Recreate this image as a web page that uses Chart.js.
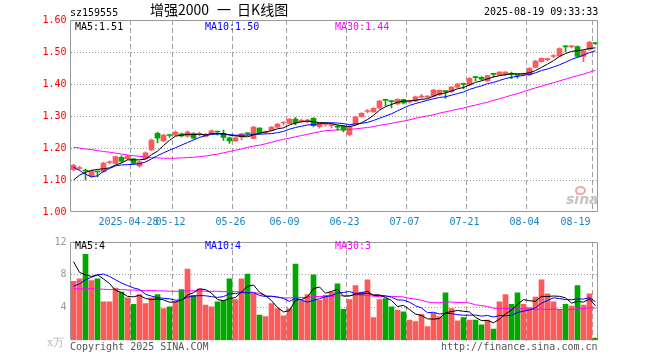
<!DOCTYPE html>
<html>
<head>
<meta charset="utf-8">
<script src="https://cdn.jsdelivr.net/npm/chart.js@4.4.1/dist/chart.umd.min.js"></script>
<style>
  body { margin: 0; width: 660px; height: 360px; position: relative; overflow: hidden; background: #fff; }
  canvas { position: absolute; left: 0; }
  #kline { top: 0; }
  #vol { top: 232px; }
  .t { position: absolute; white-space: nowrap; font: 10px/12px 'DejaVu Sans Mono', monospace; color: #000; }
</style>
</head>
<body>
<canvas id="kline" width="660" height="232"></canvas>
<canvas id="vol" width="660" height="128"></canvas>

<div class="t" style="left:70px;top:7px">sz159555</div>
<div class="t" style="left:150px;top:2px;font:14px/15px 'Noto Sans CJK SC',sans-serif">增强2000<span style="margin:0 6px 0 8px">一</span>日K线图</div>
<div class="t" style="left:484px;top:6px">2025-08-19 09:33:33</div>
<div class="t" style="left:75px;top:21px">MA5:1.51</div>
<div class="t" style="left:205px;top:21px;color:#0000ff">MA10:1.50</div>
<div class="t" style="left:335px;top:21px;color:#ff00ff">MA30:1.44</div>
<div class="t" style="left:75px;top:240px">MA5:4</div>
<div class="t" style="left:205px;top:240px;color:#0000ff">MA10:4</div>
<div class="t" style="left:335px;top:240px;color:#ff00ff">MA30:3</div>
<div class="t" style="left:47px;top:337px;color:#bbb;font:11px/12px 'DejaVu Serif',serif">x万</div>
<div class="t" style="left:70px;top:341px;color:#555">Copyright 2025 SINA.COM</div>
<div class="t" style="left:441px;top:341px;color:#555">http://finance.sina.com.cn</div>
<div style="position:absolute;left:575px;top:186px;width:7px;height:5px;border:2px solid #f2a6a6;border-radius:50%"></div>
<div class="t" style="left:566px;top:192px;color:#c4c4c4;font:italic bold 14px/14px 'DejaVu Sans',sans-serif">sina</div>

<script>
// trading days shown on the chart
var dates = [
  '04-14','04-15','04-16','04-17','04-18','04-21','04-22','04-23','04-24','04-25','04-28','04-29','04-30',
  '05-06','05-07','05-08','05-09','05-12','05-13','05-14','05-15','05-16','05-19','05-20','05-21','05-22','05-23',
  '05-26','05-27','05-28','05-29','05-30','06-03','06-04','06-05','06-06','06-09','06-10','06-11','06-12','06-13',
  '06-16','06-17','06-18','06-19','06-20','06-23','06-24','06-25','06-26','06-27','06-30','07-01','07-02','07-03',
  '07-04','07-07','07-08','07-09','07-10','07-11','07-14','07-15','07-16','07-17','07-18','07-21','07-22','07-23',
  '07-24','07-25','07-28','07-29','07-30','07-31','08-01','08-04','08-05','08-06','08-07','08-08','08-11','08-12',
  '08-13','08-14','08-15','08-18','08-19'
];

var opens = [1.132,1.136,1.130,1.113,1.127,1.126,1.154,1.152,1.171,1.167,1.166,1.144,1.167,1.194,1.246,1.222,1.241,1.240,1.244,1.237,
  1.245,1.243,1.236,1.245,1.252,1.246,1.232,1.222,1.235,1.246,1.230,1.262,1.248,1.255,1.265,1.278,1.277,1.290,1.283,1.284,
  1.293,1.267,1.274,1.270,1.268,1.268,1.242,1.275,1.298,1.314,1.313,1.325,1.351,1.347,1.338,1.351,1.344,1.347,1.359,1.359,
  1.362,1.366,1.378,1.376,1.390,1.401,1.397,1.422,1.421,1.410,1.432,1.428,1.429,1.432,1.429,1.429,1.428,1.452,1.470,1.476,
  1.486,1.488,1.518,1.516,1.517,1.486,1.508,1.528];
var highs = [1.150,1.143,1.134,1.131,1.129,1.155,1.160,1.175,1.176,1.178,1.168,1.159,1.188,1.228,1.250,1.243,1.242,1.253,1.247,1.254,
  1.248,1.250,1.246,1.257,1.253,1.256,1.234,1.234,1.246,1.248,1.268,1.264,1.254,1.267,1.277,1.281,1.292,1.296,1.290,1.290,
  1.295,1.279,1.278,1.276,1.272,1.271,1.270,1.300,1.311,1.320,1.326,1.349,1.352,1.348,1.354,1.353,1.350,1.362,1.368,1.364,
  1.383,1.382,1.379,1.392,1.402,1.403,1.420,1.423,1.423,1.428,1.433,1.439,1.439,1.437,1.430,1.434,1.451,1.474,1.482,1.481,
  1.492,1.513,1.519,1.521,1.519,1.506,1.533,1.529];
var lows = [1.128,1.132,1.100,1.108,1.110,1.124,1.150,1.150,1.155,1.163,1.149,1.140,1.165,1.192,1.216,1.220,1.233,1.238,1.235,1.234,
  1.228,1.238,1.235,1.243,1.240,1.224,1.214,1.220,1.225,1.240,1.228,1.244,1.245,1.253,1.263,1.272,1.275,1.272,1.280,1.278,
  1.266,1.262,1.268,1.262,1.255,1.250,1.238,1.272,1.296,1.310,1.311,1.322,1.331,1.325,1.336,1.338,1.340,1.345,1.356,1.356,
  1.360,1.364,1.355,1.374,1.388,1.385,1.395,1.410,1.413,1.408,1.422,1.426,1.427,1.417,1.418,1.425,1.426,1.450,1.468,1.472,
  1.482,1.486,1.500,1.513,1.484,1.470,1.506,1.524];
var closes = [1.146,1.138,1.128,1.129,1.125,1.153,1.156,1.173,1.158,1.174,1.152,1.157,1.185,1.225,1.231,1.240,1.239,1.250,1.238,1.250,
  1.231,1.245,1.243,1.254,1.250,1.233,1.222,1.232,1.244,1.244,1.265,1.247,1.250,1.265,1.275,1.280,1.290,1.278,1.286,1.286,
  1.270,1.277,1.276,1.272,1.265,1.256,1.267,1.297,1.308,1.316,1.324,1.347,1.349,1.345,1.352,1.341,1.346,1.360,1.361,1.361,
  1.381,1.380,1.376,1.390,1.400,1.399,1.418,1.420,1.415,1.426,1.430,1.437,1.437,1.430,1.427,1.431,1.449,1.472,1.480,1.478,
  1.488,1.511,1.516,1.518,1.486,1.504,1.530,1.526];

var ma5 = [1.100,1.115,1.124,1.130,1.133,1.135,1.138,1.147,1.153,1.163,1.163,1.163,1.165,1.179,1.190,1.208,1.224,1.237,1.240,1.243,
  1.242,1.243,1.241,1.245,1.245,1.245,1.240,1.238,1.236,1.235,1.241,1.246,1.250,1.254,1.260,1.263,1.272,1.278,1.282,1.284,
  1.282,1.279,1.279,1.276,1.272,1.269,1.267,1.271,1.279,1.289,1.302,1.318,1.329,1.336,1.343,1.347,1.347,1.349,1.352,1.354,
  1.362,1.369,1.372,1.378,1.385,1.389,1.397,1.405,1.410,1.416,1.422,1.426,1.429,1.432,1.432,1.432,1.435,1.442,1.452,1.462,
  1.473,1.486,1.495,1.502,1.504,1.507,1.511,1.513];
var ma10 = [1.140,1.130,1.118,1.110,1.113,1.127,1.136,1.144,1.147,1.148,1.149,1.151,1.156,1.166,1.176,1.185,1.193,1.201,1.209,1.217,
  1.225,1.233,1.239,1.242,1.244,1.243,1.242,1.240,1.240,1.240,1.243,1.243,1.244,1.245,1.248,1.252,1.259,1.264,1.268,1.272,
  1.273,1.276,1.278,1.279,1.278,1.276,1.273,1.275,1.277,1.280,1.286,1.293,1.300,1.307,1.316,1.325,1.333,1.339,1.344,1.349,
  1.354,1.358,1.360,1.365,1.370,1.375,1.383,1.389,1.394,1.401,1.405,1.411,1.417,1.421,1.424,1.427,1.430,1.435,1.442,1.447,
  1.453,1.460,1.468,1.477,1.483,1.490,1.498,1.504];
var ma30 = [1.202,1.200,1.197,1.195,1.192,1.189,1.187,1.184,1.181,1.178,1.176,1.174,1.172,1.170,1.169,1.168,1.168,1.168,1.169,1.170,
  1.171,1.173,1.175,1.178,1.181,1.185,1.189,1.193,1.197,1.202,1.206,1.209,1.213,1.218,1.223,1.227,1.231,1.235,1.239,1.243,
  1.247,1.251,1.254,1.255,1.257,1.257,1.258,1.260,1.262,1.264,1.267,1.271,1.274,1.277,1.281,1.284,1.288,1.293,1.297,1.300,
  1.304,1.309,1.313,1.317,1.321,1.325,1.330,1.334,1.339,1.343,1.349,1.354,1.359,1.365,1.370,1.376,1.382,1.388,1.393,1.399,
  1.404,1.410,1.415,1.421,1.426,1.431,1.437,1.443];

// volume in 万
var volumes = [7.2,7.5,10.5,7.3,7.5,4.7,4.7,6.4,5.9,5.2,4.4,5.6,4.5,5.2,5.6,3.9,4.1,4.7,6.2,8.7,
  5.5,6.3,4.3,4.1,4.7,4.9,7.5,5.0,7.5,8.1,5.7,3.1,2.9,4.5,3.9,3.0,3.9,9.3,4.8,5.6,
  8.0,4.9,5.5,5.9,6.9,3.8,5.0,6.7,5.9,7.4,2.8,5.0,5.1,4.1,3.7,3.5,2.5,2.3,3.2,1.7,
  3.3,2.9,5.8,3.9,2.4,2.8,2.5,2.5,1.9,2.5,1.4,4.7,5.6,4.4,5.8,4.4,4.0,5.3,7.4,5.7,
  4.7,3.8,4.4,4.2,6.7,4.3,5.7,0.3];
var vma5 = [9.6,8.3,8.0,7.8,8.0,7.5,6.94,6.12,5.84,5.38,5.32,5.5,5.12,4.98,5.06,4.96,4.66,4.7,4.9,5.52,
  5.84,6.28,6.2,5.78,4.98,4.86,5.1,5.24,5.92,6.6,6.76,5.88,5.46,4.86,4.02,3.48,3.64,4.92,4.98,5.32,
  6.32,6.52,5.76,5.98,6.24,5.4,5.42,5.66,5.66,5.76,5.56,5.56,5.24,4.88,4.14,4.28,3.78,3.22,3.04,2.64,
  2.6,2.68,3.38,3.52,3.66,3.56,3.48,2.82,2.42,2.44,2.16,2.6,3.22,3.72,4.38,4.98,4.84,4.78,5.38,5.36,
  5.42,5.38,5.2,4.56,4.76,4.68,5.06,4.24];
var vma10 = [6.6,6.9,7.4,7.7,8.0,8.1,7.8,7.4,7.0,6.69,6.41,6.22,5.62,5.41,5.22,5.14,5.08,4.91,4.94,5.29,
  5.4,5.47,5.45,5.34,5.25,5.35,5.69,5.72,5.85,5.79,5.81,5.49,5.35,5.39,5.31,5.12,4.76,5.19,4.92,4.67,
  4.9,5.08,5.34,5.48,5.78,5.86,5.97,5.71,5.82,6.0,5.48,5.49,5.45,5.27,4.95,4.92,4.67,4.23,3.96,3.39,
  3.44,3.23,3.3,3.28,3.15,3.08,3.08,3.1,2.97,3.05,2.86,3.04,3.02,3.07,3.41,3.57,3.72,4.0,4.55,4.87,
  5.2,5.11,4.99,4.97,5.06,5.05,5.22,4.72];
var vma30 = [6.3,6.3,6.3,6.3,6.25,6.25,6.2,6.2,6.2,6.15,6.15,6.1,6.1,6.1,6.05,6.05,6.0,6.0,6.0,6.05,
  6.05,6.05,6.0,6.0,6.0,5.95,5.95,5.95,5.95,5.92,5.87,5.73,5.47,5.38,5.26,5.2,5.18,5.27,5.24,5.25,
  5.37,5.35,5.38,5.4,5.45,5.44,5.47,5.54,5.53,5.49,5.4,5.35,5.38,5.38,5.35,5.3,5.13,5.04,4.9,4.69,
  4.61,4.6,4.7,4.68,4.63,4.62,4.57,4.35,4.25,4.15,3.93,3.92,3.92,3.87,3.84,3.86,3.82,3.78,3.83,3.77,
  3.83,3.79,3.77,3.77,3.87,3.9,4.01,3.94];

var priceTicks = [1.0, 1.1, 1.2, 1.3, 1.4, 1.5, 1.6];
var volTicks = [0, 4, 8, 12];
var xTickIdx = [10, 17, 27, 36, 46, 56, 66, 76, 87];
var xTickText = ['2025-04-28', '05-12', '05-26', '06-09', '06-23', '07-07', '07-21', '08-04', '08-19     '];

var RED = '#ff5a5a', GREEN = '#00a800';
var GRID = '#a0a0a0', NONE = 'rgba(0,0,0,0)';
var monoFont = { family: 'DejaVu Sans Mono', size: 10 };

var colors = closes.map(function(c, i) { return c >= opens[i] ? RED : GREEN; });
var bodies = opens.map(function(o, i) { return [o, closes[i]]; });
var wicks = lows.map(function(l, i) { return [l, highs[i]]; });

// gray box round the plot area
function framePlugin(openBottom) {
  return {
    id: 'frame',
    afterDraw: function(chart) {
      var a = chart.chartArea, ctx = chart.ctx;
      var l = Math.floor(a.left) + 0.5, r = Math.floor(a.right) - 0.5;
      var t = Math.floor(a.top) + 0.5, b = Math.floor(a.bottom) - 0.5;
      ctx.save();
      ctx.strokeStyle = '#999';
      ctx.lineWidth = 1;
      ctx.beginPath();
      ctx.moveTo(l, b);
      ctx.lineTo(l, t);
      ctx.lineTo(r, t);
      ctx.lineTo(r, b);
      if (!openBottom) ctx.lineTo(l, b);
      ctx.stroke();
      ctx.restore();
    }
  };
}

function xGridColor(c) {
  return xTickIdx.indexOf(c.index) >= 0 ? GRID : NONE;
}

function maLine(data, color) {
  return { type: 'line', data: data, borderColor: color, borderWidth: 1, pointRadius: 0, tension: 0, order: 1 };
}

new Chart(document.getElementById('kline'), {
  type: 'bar',
  data: {
    labels: dates,
    datasets: [
      maLine(ma5, '#000000'),
      maLine(ma10, '#0000ff'),
      maLine(ma30, '#ff00ff'),
      { data: bodies, backgroundColor: colors, barThickness: 5, minBarLength: 1, grouped: false, order: 2 },
      { data: wicks, backgroundColor: colors, barThickness: 1, grouped: false, order: 3 }
    ]
  },
  options: {
    responsive: false,
    animation: false,
    layout: { padding: { left: 0.5, right: 61.5, top: 20, bottom: 0 } },
    plugins: { legend: { display: false }, tooltip: { enabled: false } },
    scales: {
      x: {
        offset: true,
        afterFit: function(s) { s.height = 20; },
        grid: { offset: true, drawTicks: false, color: xGridColor },
        border: { display: false, dash: [5, 3] },
        ticks: {
          autoSkip: false, maxRotation: 0, minRotation: 0, padding: 4, labelOffset: -5,
          color: '#1584c6', font: monoFont,
          callback: function(v, i) {
            var k = xTickIdx.indexOf(i);
            return k >= 0 ? xTickText[k] : '';
          }
        }
      },
      y: {
        min: 1.0, max: 1.6,
        afterFit: function(s) { s.width = 70; },
        afterBuildTicks: function(s) { s.ticks = priceTicks.map(function(v) { return { value: v }; }); },
        grid: {
          drawTicks: false,
          color: function(c) { return c.tick && c.tick.value > 1.05 && c.tick.value < 1.55 ? GRID : NONE; }
        },
        border: { display: false, dash: [1, 2] },
        ticks: { color: '#ff0000', font: monoFont, padding: 4, callback: function(v) { return Number(v).toFixed(2); } }
      }
    }
  },
  plugins: [framePlugin(false)]
});

new Chart(document.getElementById('vol'), {
  type: 'bar',
  data: {
    labels: dates,
    datasets: [
      maLine(vma5, '#000000'),
      maLine(vma10, '#0000ff'),
      maLine(vma30, '#ff00ff'),
      { data: volumes, backgroundColor: colors, barThickness: 5, order: 2 }
    ]
  },
  options: {
    responsive: false,
    animation: false,
    layout: { padding: { left: 0.5, right: 61.5, top: 8, bottom: 0 } },
    plugins: { legend: { display: false }, tooltip: { enabled: false } },
    scales: {
      x: {
        offset: true,
        afterFit: function(s) { s.height = 19.5; },
        grid: { offset: true, drawTicks: false, color: xGridColor },
        border: { display: false, dash: [5, 3] },
        ticks: { display: false, autoSkip: false }
      },
      y: {
        min: 0, max: 12,
        afterFit: function(s) { s.width = 70; },
        afterBuildTicks: function(s) { s.ticks = volTicks.map(function(v) { return { value: v }; }); },
        grid: {
          drawTicks: false,
          color: function(c) { return c.tick && c.tick.value > 0 && c.tick.value < 12 ? GRID : NONE; }
        },
        border: { display: false, dash: [1, 2] },
        ticks: { color: '#999', font: monoFont, padding: 4, callback: function(v) { return v === 0 ? '' : String(v); } }
      }
    }
  },
  plugins: [framePlugin(true)]
});
</script>
</body>
</html>
